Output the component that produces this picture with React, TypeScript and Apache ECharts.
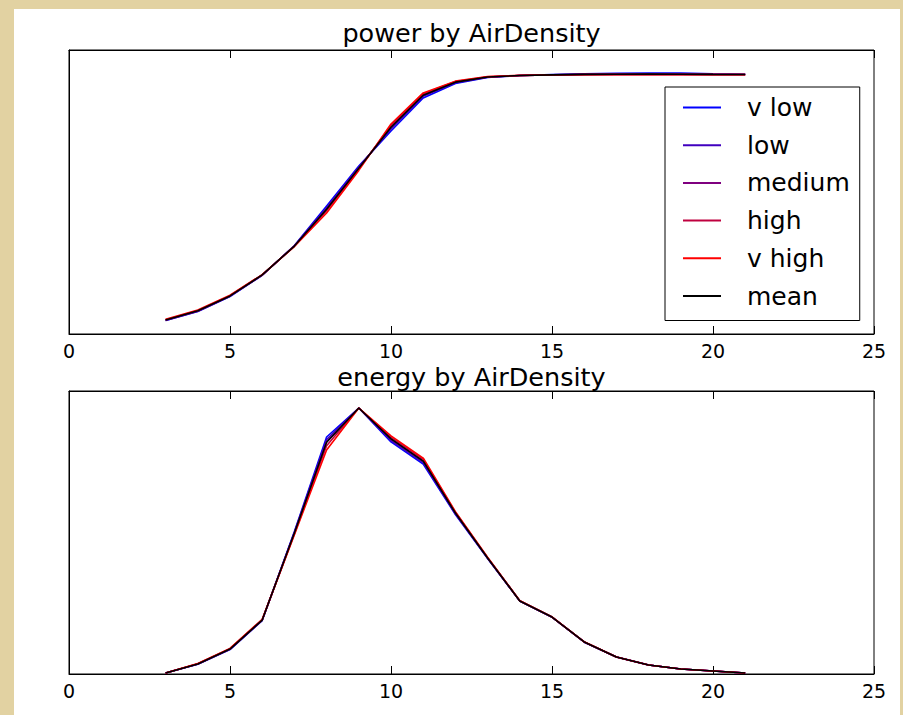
import React, { useEffect, useRef } from "react";
import * as echarts from "echarts";

const windSpeed = [3, 4, 5, 6, 7, 8, 9, 10, 11, 12, 13, 14, 15, 16, 17, 18, 19, 20, 21];
const seriesNames = ["v low", "low", "medium", "high", "v high", "mean"];
const seriesColors = ["#0000ff", "#4000bf", "#7f007f", "#bf003f", "#ff0000", "#000000"];
const xTicks = [0, 5, 10, 15, 20, 25];

const powerVLow = [118, 198, 330, 517, 778, 1127, 1478, 1787, 2077, 2205, 2258, 2276, 2283, 2290, 2294, 2298, 2296, 2290, 2286];
const powerLow = [120, 200, 333, 518, 776, 1112, 1468, 1805, 2092, 2212, 2260, 2275, 2281, 2286, 2288, 2290, 2289, 2286, 2284];
const powerMedium = [123, 203, 335, 519, 775, 1100, 1461, 1822, 2104, 2218, 2262, 2275, 2280, 2284, 2285, 2286, 2285, 2284, 2284];
const powerHigh = [126, 207, 338, 521, 773, 1085, 1452, 1836, 2114, 2222, 2264, 2276, 2280, 2283, 2284, 2284, 2284, 2283, 2283];
const powerVHigh = [129, 211, 341, 523, 770, 1065, 1440, 1849, 2122, 2226, 2266, 2277, 2281, 2283, 2283, 2283, 2283, 2283, 2283];
const powerMean = [123, 204, 335, 520, 774, 1098, 1460, 1820, 2102, 2217, 2262, 2276, 2281, 2285, 2287, 2288, 2287, 2285, 2284];

const energyVLow = [0.06, 0.55, 1.38, 3.02, 8.05, 13.4, 15.04, 13.12, 11.87, 9.02, 6.53, 4.12, 3.21, 1.8, 0.96, 0.51, 0.28, 0.17, 0.06];
const energyLow = [0.06, 0.56, 1.4, 3.04, 8.01, 13.25, 15.04, 13.2, 11.95, 9.06, 6.55, 4.13, 3.22, 1.81, 0.96, 0.51, 0.28, 0.17, 0.06];
const energyMedium = [0.06, 0.57, 1.41, 3.05, 7.97, 13.12, 15.04, 13.29, 12.04, 9.1, 6.56, 4.13, 3.22, 1.81, 0.96, 0.51, 0.28, 0.17, 0.06];
const energyHigh = [0.06, 0.58, 1.43, 3.07, 7.92, 12.9, 15.04, 13.38, 12.13, 9.14, 6.58, 4.14, 3.22, 1.81, 0.96, 0.51, 0.28, 0.17, 0.06];
const energyVHigh = [0.06, 0.59, 1.45, 3.09, 7.88, 12.66, 15.04, 13.46, 12.21, 9.18, 6.6, 4.14, 3.23, 1.82, 0.96, 0.51, 0.28, 0.17, 0.06];
const energyMean = [0.06, 0.57, 1.41, 3.05, 7.97, 13.1, 15.04, 13.29, 12.04, 9.1, 6.56, 4.13, 3.22, 1.81, 0.96, 0.51, 0.28, 0.17, 0.06];

const powerSets = [powerVLow, powerLow, powerMedium, powerHigh, powerVHigh, powerMean];
const energySets = [energyVLow, energyLow, energyMedium, energyHigh, energyVHigh, energyMean];

const FONT = "DejaVu Sans";

export default function App() {
  const ref = useRef<HTMLDivElement>(null);
  useEffect(() => {
    if (!ref.current) return;
    const chart = echarts.init(ref.current, null, { renderer: "svg" });
    const grids = [
      { left: 69, top: 50, width: 805, height: 284 },
      { left: 69, top: 391, width: 805, height: 283 },
    ];
    const xAxes: any[] = [];
    grids.forEach((_, gi) => {
      ["bottom", "top"].forEach((pos) => {
        xAxes.push({
          type: "value",
          gridIndex: gi,
          position: pos,
          min: 0,
          max: 25,
          interval: 5,
          axisLine: { show: true, onZero: false, lineStyle: { color: "#000", width: 1 } },
          axisTick: { show: true, inside: true, length: 8, lineStyle: { color: "#000" } },
          axisLabel: {
            show: pos === "bottom",
            margin: 9,
            fontFamily: FONT,
            fontSize: 19,
            lineHeight: 16,
            color: "#000",
            formatter: (v: number) => (xTicks.includes(v) ? String(v) : ""),
          },
          splitLine: { show: false },
        });
      });
    });
    const yAxes = [
      { min: 0, max: 2500 },
      { min: 0, max: 16 },
    ].map((r, gi) => ({
      type: "value",
      gridIndex: gi,
      min: r.min,
      max: r.max,
      axisLine: { show: true, onZero: false, lineStyle: { color: "#000" } },
      axisTick: { show: false },
      axisLabel: { show: false },
      splitLine: { show: false },
    }));
    const series: any[] = [];
    [powerSets, energySets].forEach((sets, gi) => {
      sets.forEach((vals, si) => {
        series.push({
          type: "line",
          name: seriesNames[si],
          xAxisIndex: gi * 2,
          yAxisIndex: gi,
          data: windSpeed.map((x, i) => [x, vals[i]]),
          showSymbol: false,
          symbol: "none",
          lineStyle: { color: seriesColors[si], width: 1.6 },
          itemStyle: { color: seriesColors[si] },
          z: 2 + si,
        });
      });
    });
    chart.setOption({
      animation: false,
      backgroundColor: "transparent",
      title: [
        {
          text: "power by AirDensity",
          left: 471.5,
          top: 21,
          textAlign: "center",
          padding: 0,
          textStyle: { fontFamily: FONT, fontSize: 25.5, fontWeight: "normal", color: "#000", lineHeight: 24 },
        },
        {
          text: "energy by AirDensity",
          left: 471.5,
          top: 365,
          textAlign: "center",
          padding: 0,
          textStyle: { fontFamily: FONT, fontSize: 25.5, fontWeight: "normal", color: "#000", lineHeight: 24 },
        },
      ],
      grid: grids.map((g) => ({ ...g, show: true, borderColor: "#000", borderWidth: 1, backgroundColor: "#fff" })),
      legend: {
        orient: "vertical",
        left: 665,
        top: 87,
        data: seriesNames,
        icon: "rect",
        itemWidth: 38,
        itemHeight: 2,
        itemGap: 12.7,
        padding: [8, 10, 12, 18],
        backgroundColor: "#fff",
        borderColor: "#000",
        borderWidth: 1,
        borderRadius: 0,
        selectedMode: false,
        textStyle: { fontFamily: FONT, fontSize: 25, color: "#000", lineHeight: 25, padding: [0, 0, 0, 21] },
      },
      xAxis: xAxes,
      yAxis: yAxes,
      series,
    });
    return () => chart.dispose();
  }, []);
  return (
    <div style={{ position: "fixed", left: 0, top: 0, width: 903, height: 715, background: "#e2d2a2" }}>
      <div style={{ position: "absolute", left: 14, top: 9, width: 886, height: 706, background: "#fff" }} />
      <div ref={ref} style={{ position: "absolute", left: 0, top: 0, width: 903, height: 715 }} />
    </div>
  );
}
